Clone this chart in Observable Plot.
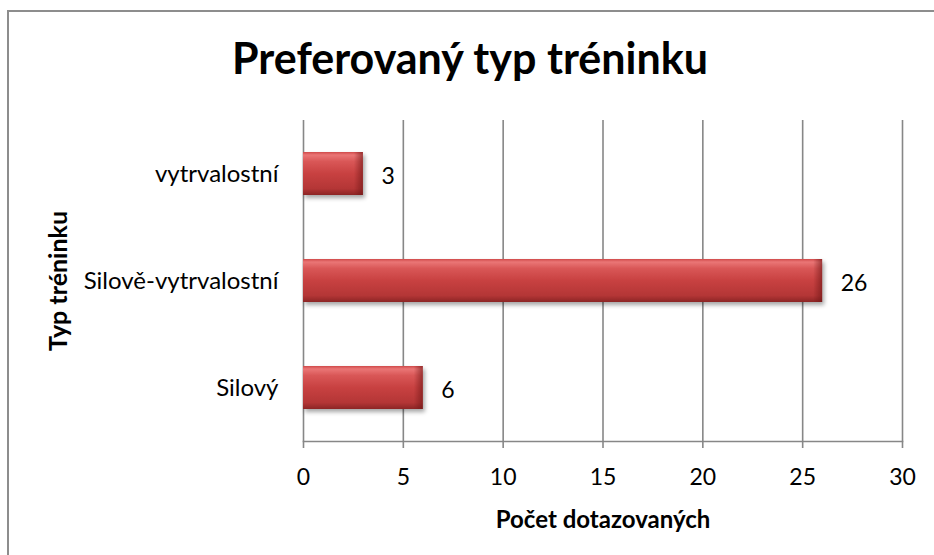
<!DOCTYPE html>
<html><head><meta charset="utf-8">
<script src="https://cdn.jsdelivr.net/npm/d3@7"></script>
<script src="https://cdn.jsdelivr.net/npm/@observablehq/plot@0.6"></script>
<style>
html,body{margin:0;padding:0;background:#fff;overflow:hidden;width:934px;height:555px}
#wrap{position:relative;width:934px;height:555px}
#border{position:absolute;left:7px;top:10px;width:960px;height:600px;border-left:2px solid #8d8d8d;border-top:2px solid #8d8d8d;pointer-events:none}
#chart svg{display:block}
</style></head><body>
<div id="wrap"><div id="chart"></div><div id="border"></div></div>
<script>
const categories = ["vytrvalostní", "Silově-vytrvalostní", "Silový"];
const values = [3, 26, 6];
const xTicks = [0, 5, 10, 15, 20, 25, 30];
const title = "Preferovaný typ tréninku";
const xLabel = "Počet dotazovaných";
const yLabel = "Typ tréninku";

const data = categories.map((c, i) => ({category: c, value: values[i]}));
const font = "Lato, 'Open Sans', sans-serif";
const grid = "#878787";
const barBase = "#c94141";
const capBase = "#7a1a1a";

const chart = Plot.plot({
  width: 934, height: 555,
  marginLeft: 303, marginRight: 32, marginTop: 120, marginBottom: 114,
  style: {fontFamily: font, fontSize: "23px", color: "#000", background: "transparent", overflow: "visible"},
  x: {domain: [0, 30], ticks: xTicks, label: null},
  y: {domain: categories, paddingInner: 0.6, paddingOuter: 0.3, label: null},
  marks: [
    Plot.gridX(xTicks, {stroke: grid, strokeOpacity: 1, strokeWidth: 1.6}),
    Plot.frame({anchor: "bottom", stroke: grid, strokeWidth: 1.6}),
    Plot.axisX(xTicks, {tickSize: 7, tickPadding: 20, stroke: grid, strokeWidth: 1.6, fill: "#000", fontSize: 23}),
    Plot.axisY({tickSize: 0, tickPadding: 25, fill: "#000", fontSize: 24}),
    Plot.barX(data, {x: "value", y: "category", fill: barBase}),
    Plot.barX(data, {x1: d => d.value - 0.45, x2: "value", y: "category", fill: capBase}),
    Plot.text(data, {x: "value", y: "category", text: d => String(d.value), dx: 18, dy: 3, textAnchor: "start", fontSize: 23, fill: "#000"}),
    Plot.text([title], {frameAnchor: "top", dx: -133, dy: -60, lineAnchor: "middle", fontSize: 43, fontWeight: "bold", fill: "#000"}),
    Plot.text([xLabel], {frameAnchor: "bottom", dy: 79, lineAnchor: "middle", fontSize: 24, fontWeight: "bold", fill: "#000"}),
    Plot.text([yLabel], {frameAnchor: "left", dx: -245, rotate: -90, textAnchor: "middle", lineAnchor: "middle", fontSize: 25, fontWeight: "bold", fill: "#000"})
  ]
});

const svg = d3.select(chart);
const defs = svg.insert("defs", ":first-child");
const g1 = defs.append("linearGradient").attr("id", "barGrad").attr("x1", 0).attr("y1", 0).attr("x2", 0).attr("y2", 1);
[[0, "#d04a4a"], [0.07, "#ea7676"], [0.22, "#d95757"], [0.5, "#c84141"], [0.85, "#b43636"], [1, "#8c2525"]]
  .forEach(([o, c]) => g1.append("stop").attr("offset", o).attr("stop-color", c));
const g2 = defs.append("linearGradient").attr("id", "capGrad").attr("x1", 0).attr("y1", 0).attr("x2", 1).attr("y2", 0);
g2.append("stop").attr("offset", 0).attr("stop-color", "#6e1515").attr("stop-opacity", 0);
g2.append("stop").attr("offset", 1).attr("stop-color", "#6e1515").attr("stop-opacity", 0.6);

svg.selectAll("g, rect").each(function() {
  const f = this.getAttribute("fill");
  if (f === barBase) {
    this.setAttribute("fill", "url(#barGrad)");
    if (this.tagName === "g") this.style.filter = "drop-shadow(2px 3px 2px rgba(0,0,0,0.35))";
  } else if (f === capBase) {
    this.setAttribute("fill", "url(#capGrad)");
  }
});
document.getElementById("chart").appendChild(chart);
</script>
</body></html>
